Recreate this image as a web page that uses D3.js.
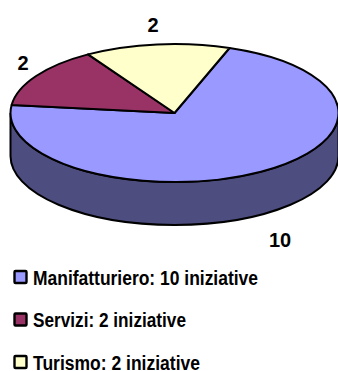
<!DOCTYPE html>
<html>
<head>
<meta charset="utf-8">
<script src="https://d3js.org/d3.v7.min.js"></script>
<style>
html, body { margin: 0; padding: 0; background: #fff; }
svg { display: block; }
text { font-family: "Liberation Sans", Arial, sans-serif; font-weight: bold; fill: #000; }
</style>
</head>
<body>
<svg width="338" height="371"></svg>
<script>
const categories = ["Manifatturiero", "Servizi", "Turismo"];
const values = [10, 2, 2];
const colors = ["#9999ff", "#993366", "#ffffcc"];
const legendLabels = ["Manifatturiero: 10 iniziative", "Servizi: 2 iniziative", "Turismo: 2 iniziative"];
const sliceLabels = ["10", "2", "2"];

const svg = d3.select("svg");

const cx = 174.5, cy = 113;
const rx = 164, ry = 69, depth = 43;
const startDeg = 19.6;

const pie = d3.pie().sort(null)
    .startAngle(startDeg * Math.PI / 180)
    .endAngle((startDeg + 360) * Math.PI / 180);
const arcs = pie(values);
const arc = d3.arc().innerRadius(0).outerRadius(rx);

// side wall of the disc, only the front half shows
svg.append("path")
    .attr("d", `M${cx - rx},${cy} L${cx - rx},${cy + depth}
        A${rx},${ry} 0 0 0 ${cx + rx},${cy + depth} L${cx + rx},${cy}
        A${rx},${ry} 0 0 1 ${cx - rx},${cy} Z`)
    .attr("fill", "#4d4d80")
    .attr("stroke", "#000")
    .attr("stroke-width", 2);

// top face, round pie squashed into an ellipse
svg.append("g")
    .attr("transform", `translate(${cx},${cy}) scale(1,${ry / rx})`)
    .selectAll("path")
    .data(arcs)
    .enter().append("path")
    .attr("d", arc)
    .attr("fill", (d, i) => colors[i])
    .attr("stroke", "#000")
    .attr("stroke-width", 2)
    .attr("stroke-linejoin", "round")
    .attr("vector-effect", "non-scaling-stroke");

// value labels
const labelPos = [[280, 247], [23, 70], [153, 32]];
svg.append("g").selectAll("text")
    .data(sliceLabels)
    .enter().append("text")
    .attr("x", (d, i) => labelPos[i][0])
    .attr("y", (d, i) => labelPos[i][1])
    .attr("text-anchor", "middle")
    .attr("font-size", 20)
    .text(d => d);

// legend
const legendY = d3.scalePoint().domain(categories).range([277, 362]);
const legend = svg.append("g").selectAll("g")
    .data(categories)
    .enter().append("g")
    .attr("transform", d => `translate(0,${legendY(d)})`);

legend.append("rect")
    .attr("x", 14.5)
    .attr("y", -6)
    .attr("width", 12)
    .attr("height", 12)
    .attr("rx", 1)
    .attr("fill", (d, i) => colors[i])
    .attr("stroke", "#000")
    .attr("stroke-width", 2.4);

legend.append("text")
    .attr("x", 33)
    .attr("y", 7.5)
    .attr("font-size", 19.5)
    .attr("textLength", (d, i) => [225, 153, 167][i])
    .attr("lengthAdjust", "spacingAndGlyphs")
    .text((d, i) => legendLabels[i]);
</script>
</body>
</html>
